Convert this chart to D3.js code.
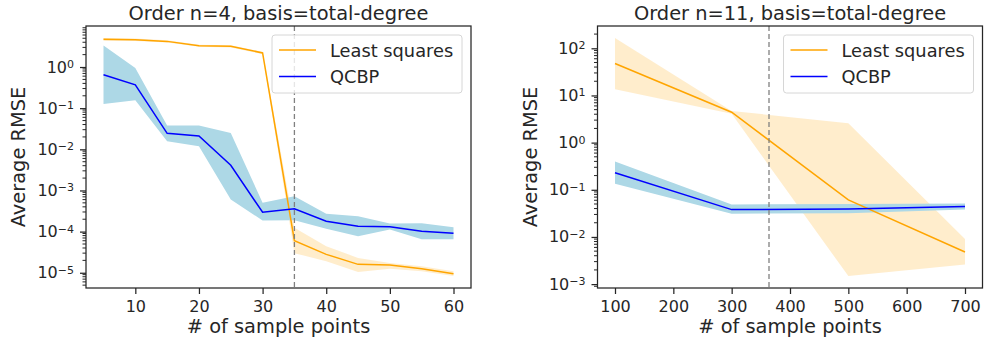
<!DOCTYPE html>
<html>
<head>
<meta charset="utf-8">
<script src="https://cdn.jsdelivr.net/npm/d3@7"></script>
<style>
  body { margin: 0; background: #fff; }
  text { font-family: "DejaVu Sans", sans-serif; fill: #262626; }
</style>
</head>
<body>
<svg id="chart" width="984" height="343"></svg>
<script>
// ---- left panel: order n=4 ----
let n4Samples   = [5, 10, 15, 20, 25, 30, 35, 40, 45, 50, 55, 60];
let n4LsMean    = [4.7, 4.6, 4.2, 3.3, 3.2, 2.2, 6.0e-5, 2.8e-5, 1.6e-5, 1.55e-5, 1.25e-5, 9.5e-6];
let n4LsHigh    = [5.1, 4.9, 4.45, 3.5, 3.4, 2.35, 1.25e-4, 4.4e-5, 2.3e-5, 1.73e-5, 1.44e-5, 1.09e-5];
let n4LsLow     = [4.3, 4.3, 3.95, 3.1, 3.0, 2.05, 3.0e-5, 1.9e-5, 1.04e-5, 1.25e-5, 1.09e-5, 8.3e-6];
let n4QcMean    = [0.65, 0.37, 0.0245, 0.0211, 0.0041, 2.95e-4, 3.6e-4, 1.79e-4, 1.35e-4, 1.31e-4, 1.02e-4, 9.1e-5];
let n4QcHigh    = [3.35, 0.95, 0.038, 0.038, 0.025, 5.0e-4, 7.2e-4, 2.7e-4, 2.35e-4, 1.58e-4, 1.6e-4, 1.28e-4];
let n4QcLow     = [0.126, 0.155, 0.0156, 0.0118, 6.0e-4, 1.86e-4, 1.9e-4, 1.17e-4, 7.7e-5, 1.13e-4, 6.5e-5, 6.5e-5];
let n4Cutoff    = 35;
let n4XTicks    = [10, 20, 30, 40, 50, 60];
let n4YTicks    = [1e-5, 1e-4, 1e-3, 1e-2, 1e-1, 1e0];

// ---- right panel: order n=11 ----
let n11Samples  = [100, 300, 500, 700];
let n11LsMean   = [47.6, 4.4, 0.061, 4.8e-3];
let n11LsHigh   = [166, 4.7, 2.57, 9.1e-3];
let n11LsLow    = [13.5, 4.1, 1.48e-3, 2.6e-3];
let n11QcMean   = [0.23, 0.038, 0.039, 0.044];
let n11QcHigh   = [0.40, 0.049, 0.050, 0.051];
let n11QcLow    = [0.134, 0.031, 0.032, 0.038];
let n11Cutoff   = 364;
let n11XTicks   = [100, 200, 300, 400, 500, 600, 700];
let n11YTicks   = [1e-3, 1e-2, 1e-1, 1e0, 1e1, 1e2];

let seriesNames = ["Least squares", "QCBP"];

let svg = d3.select("#chart");
let plotTop = 26, plotBottom = 288;

function superscript(sel) {
  sel.each(function(d) {
    let e = Math.round(Math.log10(d));
    let t = d3.select(this);
    t.text("10");
    t.append("tspan")
      .attr("dy", "-0.42em")
      .attr("font-size", "11px")
      .text(e < 0 ? "\u2212" + (-e) : e);
  });
}

function drawPanel(p) {
  let g = svg.append("g");

  // matplotlib style 5% margins
  let xs = p.samples;
  let xr = d3.max(xs) - d3.min(xs);
  let xScale = d3.scaleLinear()
    .domain([d3.min(xs) - 0.05 * xr, d3.max(xs) + 0.05 * xr])
    .range([p.left, p.right]);

  let lo = Math.log10(d3.min(p.lsLow.concat(p.qcLow)));
  let hi = Math.log10(d3.max(p.lsHigh.concat(p.qcHigh)));
  let yr = hi - lo;
  let yScale = d3.scaleLog()
    .domain([Math.pow(10, lo - 0.05 * yr), Math.pow(10, hi + 0.05 * yr)])
    .range([plotBottom, plotTop]);

  let area = (low, high) => d3.area()
    .x((d, i) => xScale(xs[i]))
    .y0((d, i) => yScale(low[i]))
    .y1((d, i) => yScale(high[i]));
  let line = d3.line()
    .x((d, i) => xScale(xs[i]))
    .y(d => yScale(d));

  g.append("path").datum(xs)
    .attr("d", area(p.lsLow, p.lsHigh))
    .attr("fill", "orange").attr("fill-opacity", 0.2);
  g.append("path").datum(xs)
    .attr("d", area(p.qcLow, p.qcHigh))
    .attr("fill", "lightblue");

  g.append("path").datum(p.lsMean)
    .attr("d", line).attr("fill", "none")
    .attr("stroke", "orange").attr("stroke-width", 1.5);
  g.append("path").datum(p.qcMean)
    .attr("d", line).attr("fill", "none")
    .attr("stroke", "blue").attr("stroke-width", 1.5);

  // vertical cutoff
  g.append("line")
    .attr("x1", xScale(p.cutoff)).attr("x2", xScale(p.cutoff))
    .attr("y1", plotTop).attr("y2", plotBottom)
    .attr("stroke", "#808080").attr("stroke-width", 1.3)
    .attr("stroke-dasharray", "5,3");

  // minor ticks on y
  let d0 = yScale.domain();
  let minors = [];
  for (let k = Math.floor(Math.log10(d0[0])); k <= Math.ceil(Math.log10(d0[1])); k++) {
    for (let m = 2; m <= 9; m++) {
      let v = m * Math.pow(10, k);
      if (v >= d0[0] && v <= d0[1]) minors.push(v);
    }
  }
  g.selectAll(".minor").data(minors).join("line")
    .attr("x1", p.left).attr("x2", p.left - 3.5)
    .attr("y1", d => yScale(d)).attr("y2", d => yScale(d))
    .attr("stroke", "#262626").attr("stroke-width", 1);

  let xAxis = d3.axisBottom(xScale).tickValues(p.xTicks).tickSize(6).tickPadding(7).tickSizeOuter(0);
  let yAxis = d3.axisLeft(yScale).tickValues(p.yTicks).tickSize(6).tickPadding(6).tickSizeOuter(0);

  let xg = g.append("g").attr("transform", `translate(0, ${plotBottom})`).call(xAxis);
  let yg = g.append("g").attr("transform", `translate(${p.left}, 0)`).call(yAxis);
  [xg, yg].forEach(a => {
    a.select(".domain").remove();
    a.selectAll("line").attr("stroke", "#262626").attr("stroke-width", 1.25);
    a.selectAll("text").attr("font-size", 16).attr("fill", "#262626")
      .attr("font-family", "DejaVu Sans, sans-serif");
  });
  yg.selectAll("text").attr("dy", null).attr("y", 5).call(superscript);

  // frame
  g.append("rect")
    .attr("x", p.left).attr("y", plotTop)
    .attr("width", p.right - p.left).attr("height", plotBottom - plotTop)
    .attr("fill", "none").attr("stroke", "#262626").attr("stroke-width", 1.25);

  let cx = (p.left + p.right) / 2;
  g.append("text").attr("x", cx).attr("y", 20)
    .attr("text-anchor", "middle").attr("font-size", 19.4).text(p.title);
  g.append("text").attr("x", cx).attr("y", 333)
    .attr("text-anchor", "middle").attr("font-size", 19.4).text("# of sample points");
  g.append("text")
    .attr("transform", `translate(${p.left - 61}, ${(plotTop + plotBottom) / 2}) rotate(-90)`)
    .attr("text-anchor", "middle").attr("font-size", 19.4).text("Average RMSE");

  // legend
  let lg = g.append("g").attr("transform", `translate(${p.right - 199}, 35)`);
  lg.append("rect").attr("width", 190).attr("height", 58).attr("rx", 3)
    .attr("fill", "white").attr("fill-opacity", 0.8)
    .attr("stroke", "#d6d6d6").attr("stroke-width", 1);
  let colors = ["orange", "blue"];
  seriesNames.forEach((name, i) => {
    let y = 15 + i * 26.5;
    lg.append("line").attr("x1", 7).attr("x2", 44).attr("y1", y).attr("y2", y)
      .attr("stroke", colors[i]).attr("stroke-width", 1.5);
    lg.append("text").attr("x", 58).attr("y", y + 6.5)
      .attr("font-size", 17.8).text(name);
  });
}

drawPanel({
  left: 86, right: 471,
  title: "Order n=4, basis=total-degree",
  samples: n4Samples, lsMean: n4LsMean, lsHigh: n4LsHigh, lsLow: n4LsLow,
  qcMean: n4QcMean, qcHigh: n4QcHigh, qcLow: n4QcLow,
  cutoff: n4Cutoff, xTicks: n4XTicks, yTicks: n4YTicks
});

drawPanel({
  left: 597.5, right: 982.5,
  title: "Order n=11, basis=total-degree",
  samples: n11Samples, lsMean: n11LsMean, lsHigh: n11LsHigh, lsLow: n11LsLow,
  qcMean: n11QcMean, qcHigh: n11QcHigh, qcLow: n11QcLow,
  cutoff: n11Cutoff, xTicks: n11XTicks, yTicks: n11YTicks
});
</script>
</body>
</html>
